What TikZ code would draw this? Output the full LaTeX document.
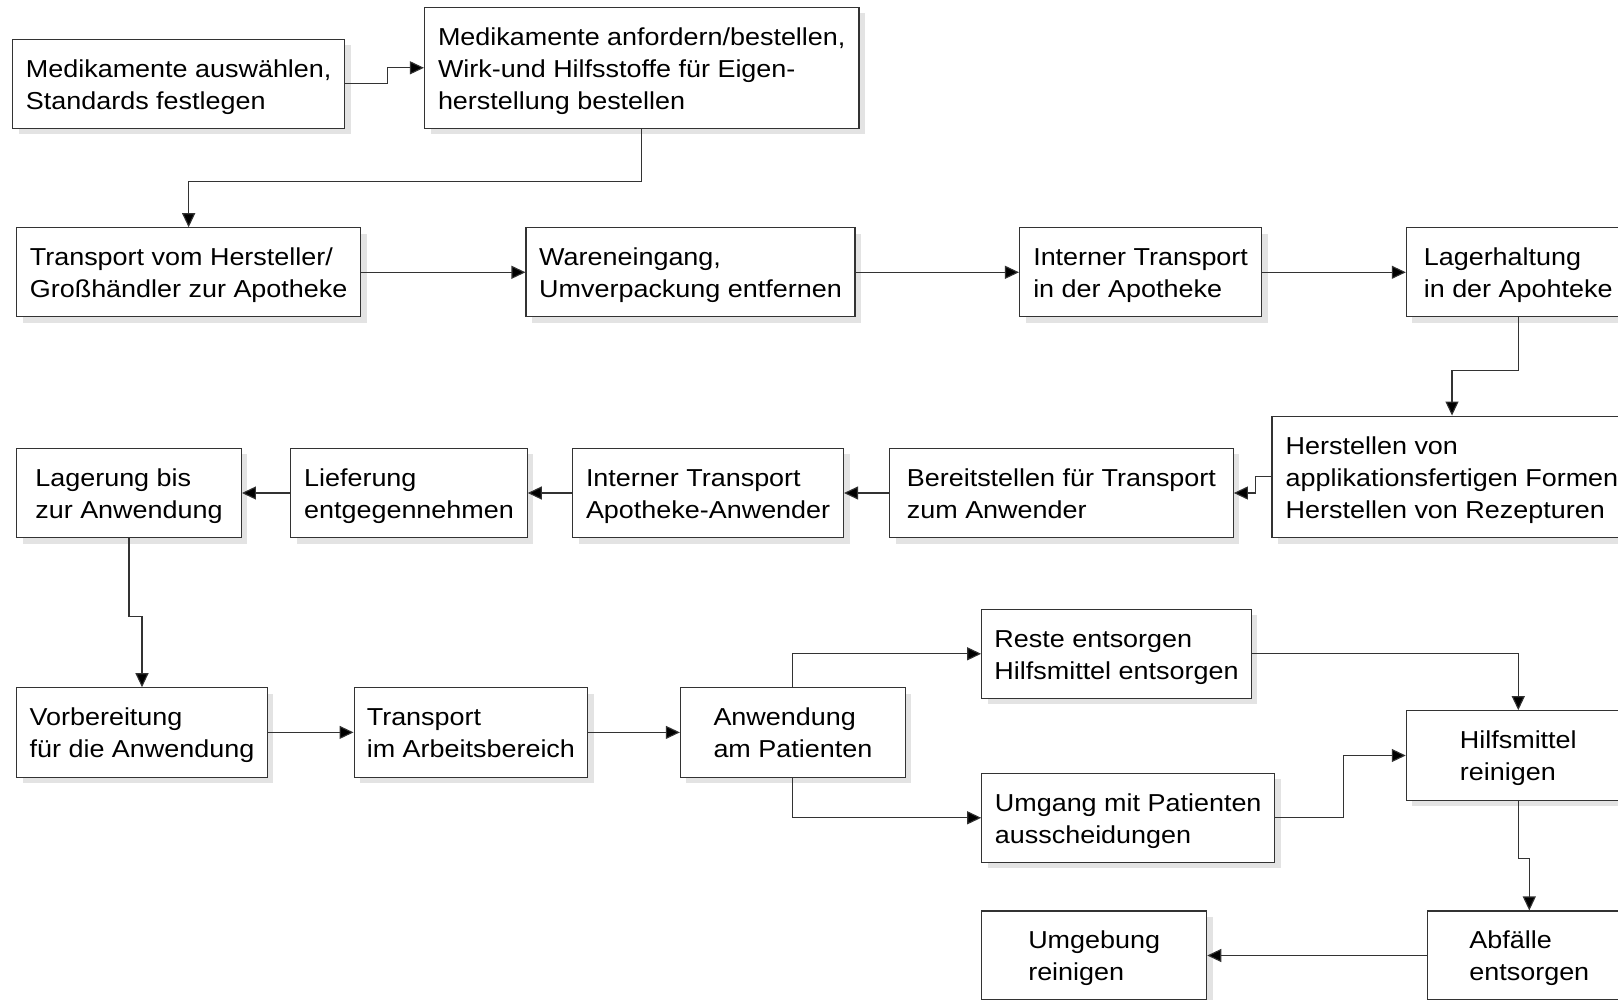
\documentclass[tikz,border=0pt]{standalone}
\usepackage{fontspec}
\setmainfont{Liberation Sans}[FakeStretch=1.10]
\usetikzlibrary{shadows,arrows.meta}
\newcommand\topS{\rule{0pt}{24pt}}
\newcommand\botS{\rule[-5pt]{0pt}{5pt}}
\begin{document}
\begin{tikzpicture}[x=1pt,y=-1pt,
  box/.style={draw=black!80, line width=1.1pt, fill=white, inner sep=0pt, align=left,
    font=\fontsize{24.5}{32}\selectfont,
    drop shadow={shadow xshift=6pt, shadow yshift=-6pt, fill=black!11, opacity=1}},
  arr/.style={draw=black!80, line width=1.1pt, -{Triangle[length=14pt,width=13pt,fill=black]}}]
\useasboundingbox (0,0) rectangle (1618,1000);
\clip (0,0) rectangle (1618,1000);
% row 1
\node[box, minimum width=331.8pt, minimum height=89pt] (A) at (178.7,83.8) {\topS Medikamente auswählen,\\Standards festlegen\botS};
\node[box, minimum width=434.5pt, minimum height=121pt] (B) at (641.75,67.8) {\topS Medikamente anfordern/bestellen,\\Wirk-und Hilfsstoffe für Eigen-\\herstellung bestellen\botS};
% row 2
\node[box, minimum width=344.1pt, minimum height=89pt] (C) at (188.65,272.3) {\topS Transport vom Hersteller/\\Großhändler zur Apotheke\botS};
\node[box, minimum width=329pt, minimum height=89pt] (D) at (690.5,272.3) {\topS Wareneingang,\\Umverpackung entfernen\botS};
\node[box, minimum width=242.2pt, minimum height=89pt] (E) at (1140.6,272.3) {\topS Interner Transport\\in der Apotheke\botS};
\node[box, minimum width=223.7pt, minimum height=89pt] (F) at (1518.2,272.3) {\topS Lagerhaltung\\in der Apohteke\botS};
% row 3
\node[box, minimum width=360pt, minimum height=121.5pt] (G) at (1452,476.85) {\topS Herstellen von\\applikationsfertigen Formen\\Herstellen von Rezepturen\botS};
\node[box, minimum width=343.8pt, minimum height=89.4pt] (H) at (1061.4,493) {\topS Bereitstellen für Transport\\zum Anwender\botS};
\node[box, minimum width=270.8pt, minimum height=89.4pt] (I) at (708.1,493) {\topS Interner Transport\\Apotheke-Anwender\botS};
\node[box, minimum width=236.4pt, minimum height=89.4pt] (J) at (409,493) {\topS Lieferung\\entgegennehmen\botS};
\node[box, minimum width=224.8pt, minimum height=89.4pt] (K) at (129,493) {\topS Lagerung bis\\zur Anwendung\botS};
% row 4
\node[box, minimum width=250.9pt, minimum height=89.3pt] (L) at (142,732.4) {\topS Vorbereitung\\für die Anwendung\botS};
\node[box, minimum width=233.7pt, minimum height=89.3pt] (M) at (470.9,732.4) {\topS Transport\\im Arbeitsbereich\botS};
\node[box, minimum width=225pt, minimum height=89.3pt] (N) at (792.9,732.4) {\topS Anwendung\\am Patienten\botS};
\node[box, minimum width=269.6pt, minimum height=89pt] (O) at (1116.5,653.8) {\topS Reste entsorgen\\Hilfsmittel entsorgen\botS};
\node[box, minimum width=292.9pt, minimum height=89pt] (P) at (1128.2,817.8) {\topS Umgang mit Patienten\\ausscheidungen\botS};
\node[box, minimum width=224pt, minimum height=89.6pt] (R) at (1518.3,755.5) {\topS Hilfsmittel\\reinigen\botS};
\node[box, minimum width=203.2pt, minimum height=89pt] (S) at (1529.3,955.5) {\topS Abfälle\\entsorgen\botS};
\node[box, minimum width=225pt, minimum height=89pt] (Q) at (1094.2,955.5) {\topS Umgebung\\reinigen\botS};
% connectors
\draw[arr] (A.east) -- ++(42.7,0) |- (B.west);
\draw[arr] (B.south) -- ++(0,52.7) -| (C.north);
\draw[arr] (C.east) -- (D.west);
\draw[arr] (D.east) -- (E.west);
\draw[arr] (E.east) -- (F.west);
\draw[arr] (F.south) -- ++(0,53) -| (G.north);
\draw[arr] (G.west) -- ++(-16.3,0) |- (H.east);
\draw[arr] (H.west) -- (I.east);
\draw[arr] (I.west) -- (J.east);
\draw[arr] (J.west) -- (K.east);
\draw[arr] (K.south) -- ++(0,78) -| (L.north);
\draw[arr] (L.east) -- (M.west);
\draw[arr] (M.east) -- (N.west);
\draw[arr] (N.north) |- (O.west);
\draw[arr] (N.south) |- (P.west);
\draw[arr] (O.east) -| (R.north);
\draw[arr] (P.east) -- ++(68.7,0) |- (R.west);
\draw[arr] (R.south) -- ++(0,58) -| (S.north);
\draw[arr] (S.west) -- (Q.east);
\end{tikzpicture}
\end{document}
